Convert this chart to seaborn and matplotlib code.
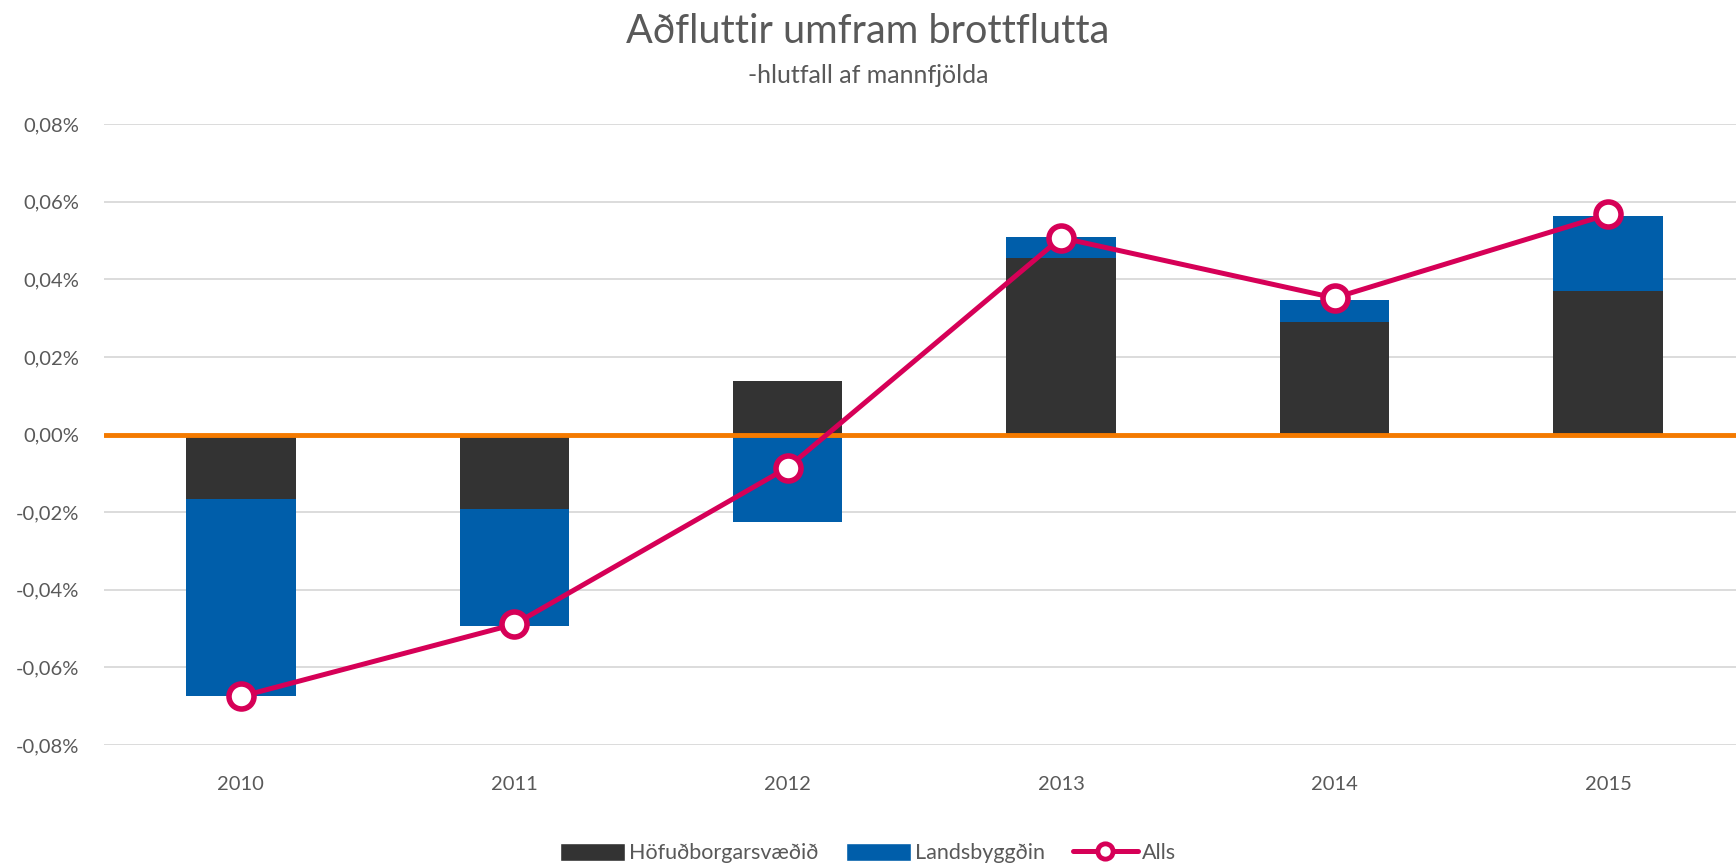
import numpy as np
import pandas as pd
import matplotlib
matplotlib.use("Agg")
import matplotlib.pyplot as plt
from matplotlib.lines import Line2D
from matplotlib.patches import Patch
from matplotlib.ticker import FuncFormatter
import seaborn as sns

# Values in percent of population
years = ["2010", "2011", "2012", "2013", "2014", "2015"]
hofudborg = [-0.0166, -0.0191, 0.0137, 0.0454, 0.0289, 0.0369]
landsbyggd = [-0.0508, -0.0303, -0.0226, 0.0055, 0.0057, 0.0194]
alls = [-0.0675, -0.0489, -0.0085, 0.0507, 0.0352, 0.0567]

dark = "#333333"
blue = "#005EAA"
pink = "#D60057"
orange = "#F47A00"
grey_text = "#595959"

sns.set_theme(style="white")
plt.rcParams["font.family"] = ["Lato", "DejaVu Sans"]

df = pd.DataFrame({"year": years, "hof": hofudborg, "lands": landsbyggd, "alls": alls})
# Stacking like Excel: positive and negative parts stack separately
same_sign = np.sign(df["hof"]) == np.sign(df["lands"])
df["lands_end"] = np.where(same_sign, df["hof"] + df["lands"], df["lands"])

fig = plt.figure(figsize=(17.36, 8.68), dpi=100)
ax = fig.add_axes([0.060, 0.1417, 0.945, 0.7154])

sns.barplot(data=df, x="year", y="lands_end", color=blue, width=0.4,
            saturation=1, linewidth=0, ax=ax, zorder=2)
sns.barplot(data=df, x="year", y="hof", color=dark, width=0.4,
            saturation=1, linewidth=0, ax=ax, zorder=2)

ax.axhline(0, color=orange, lw=3.5, zorder=3)

sns.pointplot(data=df, x="year", y="alls", color=pink, markers="o",
              linewidth=3.6, markersize=18, markerfacecolor="white",
              markeredgewidth=4, ax=ax, zorder=5)

ax.set_ylim(-0.08, 0.08)
ax.set_xlim(-0.5, 5.5)
ax.set_yticks(np.arange(-0.08, 0.081, 0.02))
ax.yaxis.set_major_formatter(FuncFormatter(lambda v, p: f"{v:.2f}%".replace(".", ",").replace("-0,00", "0,00")))
ax.grid(axis="y", color="#D9D9D9", lw=1.3, zorder=0)
ax.set_axisbelow(True)
for s in ax.spines.values():
    s.set_visible(False)
ax.tick_params(axis="both", length=0, labelsize=14.5, colors=grey_text)
ax.tick_params(axis="y", pad=18)
ax.tick_params(axis="x", pad=22)
ax.set_xlabel("")
ax.set_ylabel("")

fig.text(0.5, 0.964, "Aðfluttir umfram brottflutta", ha="center", va="center",
         fontsize=28.5, color=grey_text)
fig.text(0.5, 0.913, "-hlutfall af mannfjölda", ha="center", va="center",
         fontsize=18, color=grey_text)

handles = [
    Patch(facecolor=dark, label="Höfuðborgarsvæðið"),
    Patch(facecolor=blue, label="Landsbyggðin"),
    Line2D([0], [0], color=pink, lw=3.6, marker="o", markersize=11,
           markerfacecolor="white", markeredgewidth=3.5, label="Alls"),
]
fig.legend(handles=handles, loc="center", bbox_to_anchor=(0.5, 0.017), ncol=3,
           frameon=False, fontsize=15.5, labelcolor=grey_text, handlelength=3.0,
           handleheight=0.9, handletextpad=0.2, columnspacing=1.3)

fig.savefig("out.png", dpi=100)
